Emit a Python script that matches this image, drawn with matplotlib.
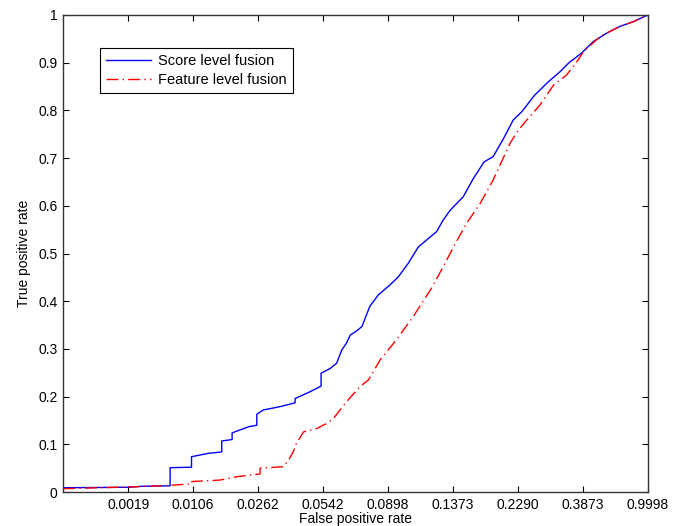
import matplotlib
matplotlib.use("Agg")
import matplotlib.pyplot as plt

# X positions are tick indices (0..9) on an evenly spaced FPR axis
fpr_tick_labels = ["0.0019", "0.0106", "0.0262", "0.0542", "0.0898",
                   "0.1373", "0.2290", "0.3873", "0.9998"]
fpr_tick_pos = [1, 2, 3, 4, 5, 6, 7, 8, 9]

score_x = [0, 1.0, 1.2, 1.645, 1.645, 1.975, 1.975, 2.23, 2.44, 2.44, 2.60, 2.60,
           2.86, 2.98, 2.98, 3.08, 3.34, 3.57, 3.57, 3.75, 3.90, 3.97, 3.97, 4.11,
           4.21, 4.29, 4.36, 4.42, 4.52, 4.60, 4.72, 4.85, 5.03, 5.16, 5.31, 5.47,
           5.75, 5.85, 5.96, 6.16, 6.31, 6.48, 6.62, 6.78, 6.93, 7.06, 7.26, 7.47,
           7.65, 7.78, 7.98, 8.16, 8.37, 8.57, 8.78, 9.0]
score_y = [0.009, 0.010, 0.012, 0.013, 0.051, 0.052, 0.074, 0.081, 0.084, 0.107, 0.110, 0.124,
           0.137, 0.140, 0.163, 0.172, 0.179, 0.187, 0.196, 0.207, 0.217, 0.222, 0.249, 0.259,
           0.270, 0.298, 0.312, 0.329, 0.338, 0.347, 0.389, 0.413, 0.434, 0.451, 0.479, 0.514,
           0.546, 0.570, 0.591, 0.619, 0.656, 0.692, 0.703, 0.741, 0.780, 0.797, 0.832, 0.860,
           0.881, 0.899, 0.920, 0.944, 0.962, 0.976, 0.986, 1.0]

feature_x = [0, 1.13, 1.64, 1.98, 1.98, 2.41, 2.67, 3.03, 3.03, 3.39, 3.47, 3.54, 3.59,
             3.70, 3.90, 4.06, 4.16, 4.36, 4.57, 4.70, 4.88, 5.13, 5.39, 5.67, 5.85, 6.01,
             6.21, 6.42, 6.62, 6.88, 7.01, 7.14, 7.34, 7.55, 7.75, 7.93, 8.01, 8.27, 8.57,
             8.78, 9.0]
feature_y = [0.007, 0.011, 0.014, 0.017, 0.022, 0.025, 0.032, 0.038, 0.050, 0.053, 0.067, 0.084, 0.102,
             0.126, 0.133, 0.144, 0.154, 0.189, 0.221, 0.235, 0.277, 0.319, 0.368, 0.427, 0.472, 0.514,
             0.563, 0.605, 0.654, 0.731, 0.759, 0.780, 0.811, 0.853, 0.874, 0.906, 0.923, 0.955, 0.976,
             0.986, 1.0]

y_ticks = [0, 0.1, 0.2, 0.3, 0.4, 0.5, 0.6, 0.7, 0.8, 0.9, 1]
y_tick_labels = ["0", "0.1", "0.2", "0.3", "0.4", "0.5", "0.6", "0.7", "0.8", "0.9", "1"]

plt.rcParams['font.family'] = ['Liberation Sans', 'DejaVu Sans']

fig = plt.figure(figsize=(6.85, 5.26), dpi=100)
ax = fig.add_axes([0.0924, 0.0646, 0.8531, 0.9069])

ax.plot(score_x, score_y, color='#0000ff', lw=1.0, label='Score level fusion')
ax.plot(feature_x, feature_y, color='#ff0000', lw=1.0,
        linestyle=(0, (8.6, 3, 1, 3)), label='Feature level fusion')

ax.set_xlim(0, 9)
ax.set_ylim(0, 1)
ax.set_xticks(fpr_tick_pos)
ax.set_xticklabels(fpr_tick_labels)
ax.set_yticks(y_ticks)
ax.set_yticklabels(y_tick_labels)
ax.tick_params(direction='in', top=True, right=True, length=4, width=0.8,
               labelsize=10, colors='black', pad=4)
for s in ax.spines.values():
    s.set_linewidth(1.0)
    s.set_color('#333333')

ax.set_xlabel('False positive rate', fontsize=10, labelpad=0)
ax.set_ylabel('True positive rate', fontsize=10, labelpad=5)

leg = ax.legend(loc='upper left', bbox_to_anchor=(0.063, 0.931), borderaxespad=0,
                fontsize=10.5, handlelength=3.1, fancybox=False, framealpha=1,
                edgecolor='black', borderpad=0.4, labelspacing=0.35, handletextpad=0.5)
leg.get_frame().set_linewidth(0.8)

fig.savefig('out.png', dpi=100)
